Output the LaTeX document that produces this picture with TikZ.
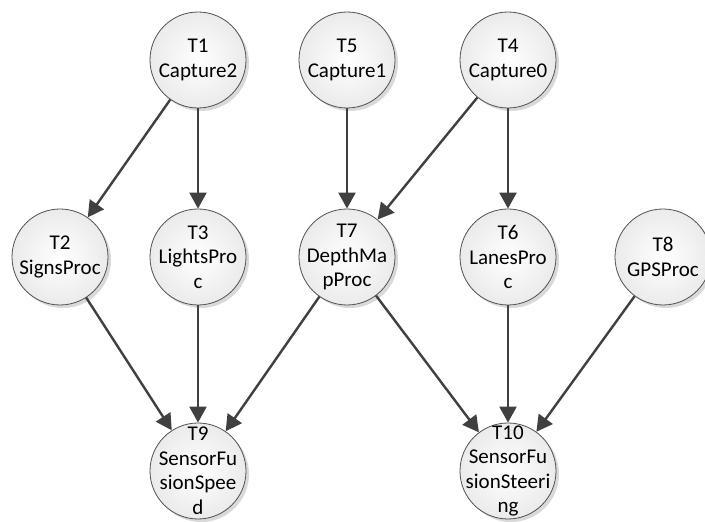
\documentclass[tikz,border=0pt]{standalone}
\usepackage{fontspec}
\setmainfont{Carlito}
\usetikzlibrary{arrows.meta,shadows}
\definecolor{edgegray}{HTML}{404040}
\definecolor{rimgray}{HTML}{505050}
\tikzset{
  task/.style={circle, minimum size=96pt, inner sep=0pt, draw=rimgray, line width=0.8pt,
    inner color=white, outer color=gray!16,
    drop shadow={shadow xshift=3pt, shadow yshift=-3pt, fill=black, opacity=0.15},
    label={[align=center, font=\fontsize{21}{24.5}\selectfont, text=black]center:#1}},
  flow/.style={draw=edgegray, line width=2.4pt,
    -{Triangle[length=16pt,width=17pt]}, shorten >=0pt}
}
\begin{document}
\begin{tikzpicture}[x=1pt,y=1pt]
\useasboundingbox (0,0) rectangle (705,522);
% top row: capture tasks
\node[task={T1\\Capture2}] (t1) at (198,462) {};
\node[task={T5\\Capture1}] (t5) at (347,462) {};
\node[task={T4\\Capture0}] (t4) at (508,462) {};
% middle row: processing tasks
\node[task={T2\\SignsProc}] (t2) at (60,265) {};
\node[task={T3\\LightsPro\\c}] (t3) at (198,265) {};
\node[task={T7\\DepthMa\\pProc}] (t7) at (347,265) {};
\node[task={T6\\LanesPro\\c}] (t6) at (508,265) {};
\node[task={T8\\GPSProc}] (t8) at (663,265) {};
% bottom row: fusion tasks
\node[task={T9\\SensorFu\\sionSpee\\d}] (t9) at (198,51) {};
\node[task={T10\\SensorFu\\sionSteeri\\ng}] (t10) at (508,51) {};
% dependencies
\draw[flow] (t1) -- (t2);
\draw[flow] (t1) -- (t3);
\draw[flow] (t5) -- (t7);
\draw[flow] (t4) -- (t7);
\draw[flow] (t4) -- (t6);
\draw[flow] (t2) -- (t9);
\draw[flow] (t3) -- (t9);
\draw[flow] (t7) -- (t9);
\draw[flow] (t7) -- (t10);
\draw[flow] (t6) -- (t10);
\draw[flow] (t8) -- (t10);
\end{tikzpicture}
\end{document}
